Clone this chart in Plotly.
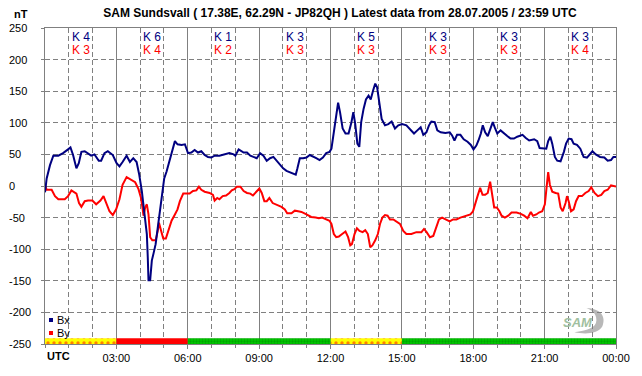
import plotly.graph_objects as go

# ---------------- data ----------------
bx_hours = [0.00,0.07,0.21,0.35,0.56,0.76,0.97,1.07,1.18,1.32,1.42,1.53,1.67,1.85,1.94,2.08,2.26,2.36,2.50,2.64,
            2.85,3.01,3.13,3.26,3.43,3.57,3.71,3.85,3.96,4.07,4.18,4.28,4.32,4.35,4.42,4.49,4.56,4.65,4.76,4.90,
            5.01,5.11,5.22,5.35,5.46,5.57,5.74,5.88,5.94,6.01,6.15,6.29,6.43,6.57,6.71,6.85,6.99,7.13,7.33,7.54,
            7.75,7.93,8.00,8.14,8.35,8.49,8.63,8.76,8.90,9.04,9.18,9.32,9.46,9.60,9.74,9.88,10.01,10.15,10.29,10.43,
            10.54,10.61,10.71,10.85,10.99,11.13,11.26,11.40,11.54,11.68,11.82,11.96,12.04,12.14,12.24,12.32,12.40,12.51,12.63,12.76,
            12.88,12.96,13.04,13.13,13.21,13.29,13.39,13.49,13.60,13.69,13.79,13.88,13.96,14.04,14.15,14.29,14.43,14.57,14.71,14.85,
            15.01,15.19,15.38,15.51,15.65,15.79,15.90,16.03,16.14,16.24,16.38,16.49,16.63,16.83,17.01,17.11,17.21,17.32,17.46,17.60,
            17.76,17.90,18.01,18.13,18.22,18.32,18.40,18.50,18.61,18.71,18.82,18.92,19.01,19.15,19.29,19.43,19.57,19.71,19.85,19.99,
            20.07,20.21,20.35,20.56,20.69,20.79,20.93,21.07,21.15,21.24,21.32,21.43,21.53,21.67,21.81,21.90,22.01,22.13,22.22,22.36,
            22.50,22.64,22.78,22.92,23.01,23.15,23.33,23.51,23.65,23.79,23.89,24.00]
bx_values = [-10,12,33,48,48,52,58,61,49,28,36,54,55,50,48,50,40,40,52,55,
             49,36,31,38,48,38,44,38,18,-8,-40,-76,-113,-149,-149,-118,-107,-92,-60,-24,
             12,23,39,59,71,66,65,66,59,52,53,57,53,55,49,46,45,48,48,50,
             52,50,48,58,53,53,48,46,44,52,48,40,44,46,40,34,28,24,22,19,
             18,28,44,44,45,49,46,44,41,45,52,54,59,85,117,132,117,91,83,83,
             101,117,98,67,62,101,122,137,143,137,151,162,156,132,106,96,98,102,91,96,
             98,96,88,83,88,93,81,85,96,102,101,88,85,84,85,80,72,81,81,74,
             70,65,58,64,72,83,96,85,79,91,101,91,83,88,83,79,75,75,78,80,
             81,76,72,74,71,60,59,59,71,78,67,46,40,39,54,67,75,74,67,65,
             59,46,45,52,55,50,46,45,40,41,46,46]

by_hours = [0.00,0.07,0.28,0.42,0.56,0.83,0.97,1.11,1.32,1.43,1.53,1.67,1.81,1.99,2.15,2.33,2.46,2.57,2.71,2.85,
            2.99,3.13,3.26,3.43,3.61,3.79,3.93,4.03,4.10,4.14,4.21,4.28,4.35,4.42,4.51,4.65,4.74,4.79,4.88,4.97,
            5.08,5.18,5.32,5.46,5.57,5.67,5.81,5.94,6.08,6.22,6.36,6.47,6.57,6.71,6.92,7.06,7.13,7.24,7.33,7.47,
            7.61,7.75,7.85,7.96,8.07,8.21,8.35,8.49,8.63,8.74,8.88,9.01,9.11,9.22,9.32,9.43,9.57,9.74,9.94,10.08,
            10.18,10.36,10.50,10.64,10.78,10.99,11.19,11.38,11.51,11.65,11.82,11.96,12.04,12.14,12.24,12.35,12.49,12.63,12.74,12.83,
            12.90,13.01,13.11,13.22,13.35,13.46,13.57,13.67,13.76,13.88,13.99,14.08,14.18,14.29,14.40,14.50,14.64,14.74,14.92,15.06,
            15.19,15.40,15.61,15.82,15.93,16.04,16.18,16.32,16.42,16.56,16.69,16.83,17.01,17.15,17.29,17.46,17.67,17.88,17.99,18.08,
            18.18,18.29,18.39,18.50,18.61,18.71,18.78,18.88,18.99,19.10,19.19,19.33,19.47,19.61,19.82,20.00,20.14,20.28,20.42,20.51,
            20.65,20.76,20.90,21.01,21.08,21.15,21.22,21.32,21.46,21.57,21.67,21.76,21.88,21.94,22.01,22.11,22.22,22.32,22.43,22.57,
            22.71,22.85,22.96,23.10,23.24,23.38,23.51,23.65,23.79,23.93,24.00]
by_values = [2,-6,-6,-16,-21,-21,-16,-7,-12,-27,-33,-24,-23,-23,-29,-23,-16,-27,-40,-46,
             -37,-21,2,14,10,6,-5,-18,-35,-47,-34,-29,-45,-81,-86,-86,-71,-58,-71,-83,
             -83,-71,-55,-45,-37,-24,-12,-12,-12,-8,-7,-1,-6,-9,-11,-14,-23,-19,-21,-16,
             -15,-11,-7,-5,-1,-1,-8,-11,-12,-15,-9,-4,-11,-24,-24,-19,-27,-30,-33,-37,
             -43,-43,-39,-40,-41,-45,-49,-50,-51,-50,-53,-55,-60,-76,-81,-80,-76,-72,-81,-94,
             -92,-76,-67,-71,-73,-70,-76,-97,-94,-86,-76,-60,-50,-46,-47,-53,-53,-56,-60,-71,
             -76,-76,-73,-73,-68,-73,-81,-79,-68,-53,-50,-53,-56,-53,-53,-50,-47,-45,-40,-27,
             -16,-3,-14,-14,-11,7,-11,-34,-34,-40,-47,-50,-47,-42,-42,-44,-47,-51,-41,-47,
             -45,-42,-40,-29,-3,22,2,-9,-11,-12,-34,-40,-27,-16,-24,-40,-37,-24,-16,-16,
             -11,-8,-2,-11,-16,-14,-8,-6,1,-1,-1]

k_block_start = [0, 3, 6, 9, 12, 15, 18, 21]
k_bx = [4, 6, 1, 3, 5, 3, 3, 3]
k_by = [3, 4, 2, 3, 3, 3, 3, 4]

band_start = [0, 3, 6, 12, 15]
band_end = [3, 6, 12, 15, 24]
band_state = ["quiet", "storm", "normal", "quiet", "normal"]

x_tickvals = [3, 6, 9, 12, 15, 18, 21, 24]
x_ticktext = ["03:00", "06:00", "09:00", "12:00", "15:00", "18:00", "21:00", "00:00"]
y_tickvals = [250, 200, 150, 100, 50, 0, -50, -100, -150, -200, -250]

# ---------------- styling ----------------
W, H = 642, 376
ML, MR, MT, MB = 45, 20, 28, 28
PW, PH = W - ML - MR, H - MT - MB
FONT = "Liberation Sans, Arial, sans-serif"
GRID = "#808080"
BLUE = "#000080"
RED = "#ff0000"

band_style = {
    "quiet": dict(bgcolor="#ffff00", fgcolor="#ff0000", shape=".", size=6, solidity=0.25),
    "storm": dict(bgcolor="#ff0000", fgcolor="#ff0000", shape="", size=6, solidity=0.2),
    "normal": dict(bgcolor="#00c800", fgcolor="#008000", shape=".", size=3, solidity=0.45),
}

fig = go.Figure()

for state in ["quiet", "storm", "normal"]:
    xs = [(s + e) / 2 for s, e, st in zip(band_start, band_end, band_state) if st == state]
    ws = [(e - s) for s, e, st in zip(band_start, band_end, band_state) if st == state]
    stl = band_style[state]
    fig.add_trace(go.Bar(
        x=xs, y=[9] * len(xs), base=-250, width=ws,
        marker=dict(color=stl["bgcolor"], line=dict(width=0),
                    pattern=dict(shape=stl["shape"], fgcolor=stl["fgcolor"], bgcolor=stl["bgcolor"],
                                 size=stl["size"], solidity=stl["solidity"], fillmode="overlay")),
        showlegend=False, hoverinfo="skip"))

fig.add_trace(go.Scatter(x=by_hours, y=by_values, mode="lines", name="By",
                         line=dict(color=RED, width=2), showlegend=False))
fig.add_trace(go.Scatter(x=bx_hours, y=bx_values, mode="lines", name="Bx",
                         line=dict(color=BLUE, width=2), showlegend=False))

ann = []
# K indices
for s, kb, kr in zip(k_block_start, k_bx, k_by):
    ann.append(dict(x=s + 1.5, xref="x", y=(H - MB - 37) / PH, yref="paper", text=f"K {kb}",
                    showarrow=False, font=dict(family=FONT, size=12, color=BLUE), xanchor="center", yanchor="middle"))
    ann.append(dict(x=s + 1.5, xref="x", y=(H - MB - 50) / PH, yref="paper", text=f"K {kr}",
                    showarrow=False, font=dict(family=FONT, size=12, color=RED), xanchor="center", yanchor="middle"))
# y tick labels (left aligned)
for v in y_tickvals:
    ann.append(dict(x=(7 - ML) / PW, xref="paper", y=v, yref="y", text=str(v), showarrow=False,
                    font=dict(family=FONT, size=11, color="black"), xanchor="left", yanchor="middle"))
# UTC label
ann.append(dict(x=0, xref="x", y=-12 / PH, yref="paper", text="<b>UTC</b>", showarrow=False,
                font=dict(family=FONT, size=11, color="black"), xanchor="left", yanchor="middle"))
# nT label
ann.append(dict(x=(21 - ML) / PW, xref="paper", y=(H - MB - 14) / PH, yref="paper", text="<b>nT</b>",
                showarrow=False, font=dict(family=FONT, size=11, color="black"), xanchor="center", yanchor="middle"))
# legend texts
ann.append(dict(x=0, xref="x", xshift=10, y=-250, yref="y", yshift=24, text="Bx", showarrow=False,
                font=dict(family=FONT, size=11, color="black"), xanchor="left", yanchor="middle"))
ann.append(dict(x=0, xref="x", xshift=10, y=-250, yref="y", yshift=11, text="By", showarrow=False,
                font=dict(family=FONT, size=11, color="black"), xanchor="left", yanchor="middle"))
# logo
ann.append(dict(x=(584 - ML) / PW, xref="paper", y=(H - MB - 326) / PH, yref="paper",
                text="<b><i>SAM</i></b>", showarrow=False,
                font=dict(family=FONT, size=13, color="#a0c0a0"), xanchor="center", yanchor="middle"))

shapes = [
    dict(type="rect", xref="x", yref="y", xsizemode="pixel", ysizemode="pixel", xanchor=0, yanchor=-250,
         x0=4, x1=8, y0=22, y1=26, fillcolor=BLUE, line=dict(width=0)),
    dict(type="rect", xref="x", yref="y", xsizemode="pixel", ysizemode="pixel", xanchor=0, yanchor=-250,
         x0=4, x1=8, y0=9, y1=13, fillcolor=RED, line=dict(width=0)),
    dict(type="path", xref="paper", yref="paper", xsizemode="pixel", ysizemode="pixel",
         xanchor=(584 - ML) / PW, yanchor=(H - MB - 326) / PH,
         path="M 8,14 C 22,14 28,6 24,-4 C 20,-12 6,-12 -4,-10 C 8,-8 18,-6 18,2 C 18,10 12,13 8,14 Z",
         fillcolor="#b8b8b8", line=dict(width=0), layer="below"),
]

fig.update_layout(
    width=W, height=H,
    margin=dict(l=ML, r=MR, t=MT, b=MB, pad=0),
    paper_bgcolor="white", plot_bgcolor="white",
    font=dict(family=FONT, size=11, color="black"),
    title=dict(text="<b>SAM Sundsvall ( 17.38E, 62.29N - JP82QH ) Latest data from 28.07.2005 / 23:59 UTC</b>",
               x=340 / W, xanchor="center", y=1 - 13 / H, yanchor="middle",
               font=dict(family=FONT, size=12, color="black")),
    barmode="overlay",
    showlegend=False,
    annotations=ann,
    shapes=shapes,
    xaxis=dict(range=[0, 24], tickmode="array", tickvals=x_tickvals, ticktext=x_ticktext,
               showgrid=True, gridcolor=GRID, gridwidth=1,
               ticks="outside", ticklen=4, tickcolor=GRID,
               minor=dict(dtick=1, tick0=0, showgrid=True, gridcolor=GRID, griddash="5px,3px",
                          ticks="outside", ticklen=3, tickcolor=GRID),
               showline=True, linecolor=GRID, linewidth=1, mirror=True, zeroline=False,
               tickfont=dict(family=FONT, size=11, color="black"), fixedrange=True),
    yaxis=dict(range=[-250, 250], dtick=50, tick0=0, showgrid=True, gridcolor=GRID, griddash="5px,3px",
               zeroline=True, zerolinecolor=GRID, zerolinewidth=1,
               showticklabels=False, ticks="outside", ticklen=3, tickcolor=GRID,
               showline=True, linecolor=GRID, linewidth=1, mirror=True, fixedrange=True),
)

fig.write_html("out.html", config={"displayModeBar": False},
               post_script="document.body.style.margin='0px';document.body.style.overflow='hidden';")
